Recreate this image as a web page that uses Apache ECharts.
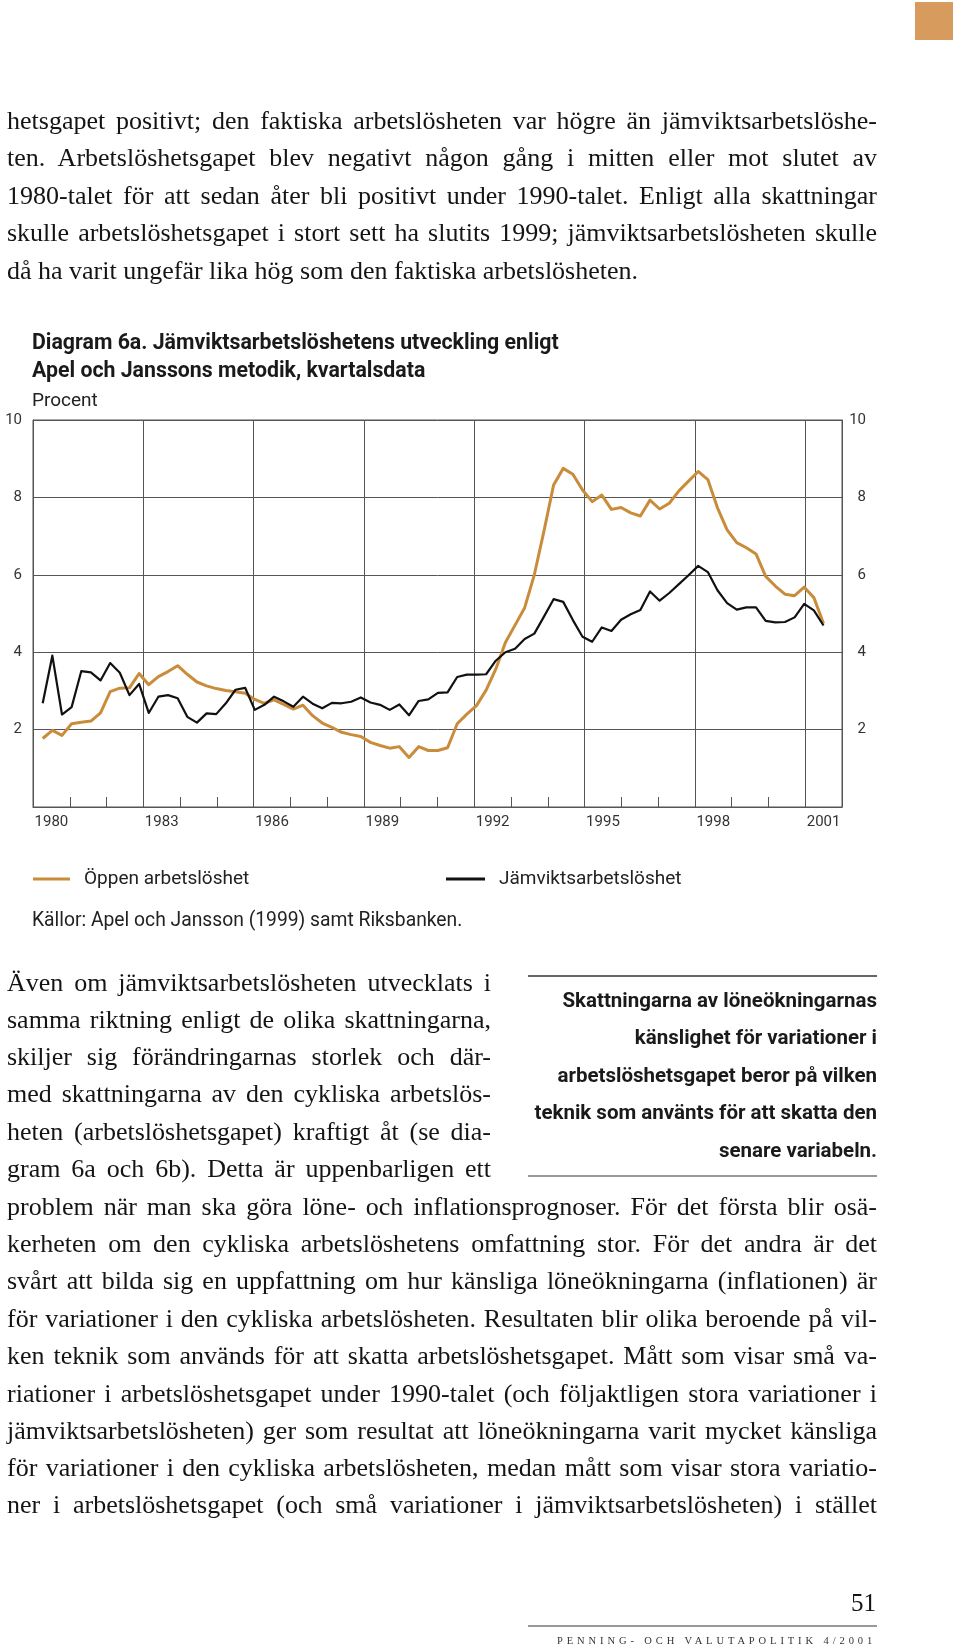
<!DOCTYPE html>
<html><head><meta charset="utf-8">
<script src="https://cdn.jsdelivr.net/npm/echarts/dist/echarts.min.js"></script>
<style>
html,body{margin:0;padding:0;background:#fff;}
#page{position:relative;width:960px;height:1647px;overflow:hidden;background:#fff;}
#chart{position:absolute;left:0;top:0;width:960px;height:1647px;}
.ln{position:absolute;font-family:'Liberation Serif','Times New Roman',serif;font-size:26px;line-height:30px;height:30px;color:#141414;white-space:nowrap;overflow:visible;}
.j{text-align:justify;text-align-last:justify;}
.side{position:absolute;right:83px;font-family:Roboto,'Noto Sans',sans-serif;font-weight:bold;font-size:20.5px;line-height:24px;color:#1a1a1a;text-align:right;white-space:nowrap;}
.rule{position:absolute;}
</style>
</head><body>
<div id="page">
<div id="chart"></div>
<div style="position:absolute;left:915px;top:2px;width:38px;height:38px;background:#D89B5E;"></div>

<div class="ln j" style="left:7px;top:106px;width:870px;">hetsgapet positivt; den faktiska arbetslösheten var högre än jämviktsarbetslöshe-</div>
<div class="ln j" style="left:7px;top:143px;width:870px;">ten. Arbetslöshetsgapet blev negativt någon gång i mitten eller mot slutet av</div>
<div class="ln j" style="left:7px;top:181px;width:870px;">1980-talet för att sedan åter bli positivt under 1990-talet. Enligt alla skattningar</div>
<div class="ln j" style="left:7px;top:218px;width:870px;">skulle arbetslöshetsgapet i stort sett ha slutits 1999; jämviktsarbetslösheten skulle</div>
<div class="ln" style="left:7px;top:256px;width:870px;">då ha varit ungefär lika hög som den faktiska arbetslösheten.</div>

<div class="ln j" style="left:7px;top:968px;width:484px;">Även om jämviktsarbetslösheten utvecklats i</div>
<div class="ln j" style="left:7px;top:1005px;width:484px;">samma riktning enligt de olika skattningarna,</div>
<div class="ln j" style="left:7px;top:1042px;width:484px;">skiljer sig förändringarnas storlek och där-</div>
<div class="ln j" style="left:7px;top:1079px;width:484px;">med skattningarna av den cykliska arbetslös-</div>
<div class="ln j" style="left:7px;top:1117px;width:484px;">heten (arbetslöshetsgapet) kraftigt åt (se dia-</div>
<div class="ln j" style="left:7px;top:1154px;width:484px;">gram 6a och 6b). Detta är uppenbarligen ett</div>
<div class="ln j" style="left:7px;top:1192px;width:870px;">problem när man ska göra löne- och inflationsprognoser. För det första blir osä-</div>
<div class="ln j" style="left:7px;top:1229px;width:870px;">kerheten om den cykliska arbetslöshetens omfattning stor. För det andra är det</div>
<div class="ln j" style="left:7px;top:1266px;width:870px;">svårt att bilda sig en uppfattning om hur känsliga löneökningarna (inflationen) är</div>
<div class="ln j" style="left:7px;top:1304px;width:870px;">för variationer i den cykliska arbetslösheten. Resultaten blir olika beroende på vil-</div>
<div class="ln j" style="left:7px;top:1341px;width:870px;">ken teknik som används för att skatta arbetslöshetsgapet. Mått som visar små va-</div>
<div class="ln j" style="left:7px;top:1379px;width:870px;">riationer i arbetslöshetsgapet under 1990-talet (och följaktligen stora variationer i</div>
<div class="ln j" style="left:7px;top:1416px;width:870px;">jämviktsarbetslösheten) ger som resultat att löneökningarna varit mycket känsliga</div>
<div class="ln j" style="left:7px;top:1453px;width:870px;">för variationer i den cykliska arbetslösheten, medan mått som visar stora variatio-</div>
<div class="ln j" style="left:7px;top:1490px;width:870px;">ner i arbetslöshetsgapet (och små variationer i jämviktsarbetslösheten) i stället</div>

<div class="rule" style="left:528px;top:975px;width:349px;height:1.5px;background:#666;"></div>
<div class="side" style="top:988px;">Skattningarna av löneökningarnas</div>
<div class="side" style="top:1025px;">känslighet för variationer i</div>
<div class="side" style="top:1063px;">arbetslöshetsgapet beror på vilken</div>
<div class="side" style="top:1100px;">teknik som använts för att skatta den</div>
<div class="side" style="top:1138px;">senare variabeln.</div>
<div class="rule" style="left:528px;top:1175px;width:349px;height:2px;background:#999;"></div>

<div class="ln" style="left:776px;top:1588px;width:100px;text-align:right;font-size:25px;">51</div>
<div class="rule" style="left:528px;top:1625px;width:349px;height:2px;background:#999;"></div>
<div style="position:absolute;left:557px;top:1635px;font-family:'Liberation Serif',serif;font-size:10.5px;letter-spacing:3.9px;line-height:12px;color:#333;white-space:nowrap;">PENNING- OCH VALUTAPOLITIK 4/2001</div>
</div>
<script>
// Year tick labels (bottom axis), one category per calendar year
const yearLabels = ['1980','1981','1982','1983','1984','1985','1986','1987','1988','1989','1990',
  '1991','1992','1993','1994','1995','1996','1997','1998','1999','2000','2001'];

// Öppen arbetslöshet (open unemployment), quarterly, percent
const oppen = [1.77,1.98,1.85,2.15,2.19,2.22,2.43,2.98,3.07,3.08,
  3.45,3.16,3.37,3.50,3.65,3.43,3.23,3.13,3.06,3.01,
  2.98,2.94,2.78,2.68,2.77,2.65,2.53,2.63,2.36,2.17,
  2.06,1.93,1.87,1.82,1.67,1.59,1.52,1.56,1.28,1.56,
  1.46,1.46,1.53,2.15,2.40,2.62,3.02,3.56,4.25,4.70,
  5.15,6.00,7.13,8.32,8.75,8.60,8.19,7.89,8.06,7.69,
  7.74,7.60,7.52,7.93,7.70,7.85,8.17,8.42,8.67,8.46,
  7.73,7.16,6.83,6.70,6.54,5.96,5.71,5.50,5.46,5.68,
  5.41,4.74];

// Jämviktsarbetslöshet (equilibrium unemployment), quarterly, percent
const jamvikt = [2.68,3.91,2.39,2.58,3.51,3.48,3.27,3.72,3.47,2.89,
  3.18,2.43,2.85,2.89,2.81,2.33,2.18,2.42,2.40,2.68,
  3.03,3.08,2.51,2.64,2.85,2.73,2.59,2.85,2.67,2.55,
  2.69,2.68,2.72,2.83,2.70,2.64,2.51,2.65,2.37,2.74,
  2.78,2.95,2.96,3.36,3.42,3.42,3.43,3.78,4.00,4.09,
  4.34,4.48,4.92,5.37,5.30,4.83,4.40,4.27,4.64,4.55,
  4.84,4.98,5.09,5.57,5.33,5.53,5.76,5.99,6.23,6.07,
  5.60,5.27,5.10,5.16,5.16,4.81,4.77,4.78,4.90,5.25,
  5.08,4.69];

// y-axis tick values
const yTicks = [0,2,4,6,8,10];

const quarterLabels = oppen.map((_, i) => 'Kv ' + (i + 1));

const FONT = 'Roboto, "Noto Sans", sans-serif';
const ORANGE = '#C98C3A';
const BLACK = '#111111';
const AX = '#555555';

const chart = echarts.init(document.getElementById('chart'), null, {renderer: 'canvas'});
chart.setOption({
  animation: false,
  backgroundColor: 'transparent',
  textStyle: {fontFamily: FONT},
  title: [
    {text: 'Diagram 6a. Jämviktsarbetslöshetens utveckling enligt\nApel och Janssons metodik, kvartalsdata',
     left: 32, top: 330, padding: 0,
     textStyle: {fontFamily: FONT, fontSize: 21.3, fontWeight: 'bold', lineHeight: 28, color: '#1a1a1a'}},
    {text: 'Procent', left: 32, top: 390, padding: 0,
     textStyle: {fontFamily: FONT, fontSize: 19, fontWeight: 'normal', lineHeight: 22, color: '#222'}},
    {text: 'Källor: Apel och Jansson (1999) samt Riksbanken.', left: 32, top: 910, padding: 0,
     textStyle: {fontFamily: FONT, fontSize: 19.3, fontWeight: 'normal', lineHeight: 22, color: '#222'}}
  ],
  legend: [
    {data: ['Öppen arbetslöshet'], left: 33, top: 868, padding: 0, itemWidth: 37, itemHeight: 3, icon: 'rect',
     textStyle: {fontFamily: FONT, fontSize: 19, lineHeight: 22, color: '#222', padding: [0, 0, 0, 9]}},
    {data: ['Jämviktsarbetslöshet'], left: 446, top: 868, padding: 0, itemWidth: 39, itemHeight: 3, icon: 'rect',
     textStyle: {fontFamily: FONT, fontSize: 19, lineHeight: 22, color: '#222', padding: [0, 0, 0, 9]}}
  ],
  grid: [
    {left: 33, right: 118, top: 420, bottom: 840, show: true, borderColor: AX, borderWidth: 1, containLabel: false},
    {left: 42.7, right: 136.5, top: 420, bottom: 840, containLabel: false}
  ],
  xAxis: [
    {type: 'category', gridIndex: 0, data: yearLabels, boundaryGap: true,
     axisLine: {show: true, lineStyle: {color: AX, width: 1}},
     axisTick: {show: true, inside: true, length: 10, interval: 0, lineStyle: {color: AX, width: 1}},
     axisLabel: {interval: (i) => i % 3 === 0, fontFamily: FONT, fontSize: 15, color: '#333', margin: 8},
     splitLine: {show: true, interval: (i) => i % 3 === 0, lineStyle: {color: AX, width: 1}}},
    {type: 'category', gridIndex: 1, data: quarterLabels, boundaryGap: false, show: false}
  ],
  yAxis: [
    {type: 'value', gridIndex: 0, min: yTicks[0], max: yTicks[yTicks.length - 1], interval: 2, position: 'left',
     axisLine: {show: true, lineStyle: {color: AX, width: 1}}, axisTick: {show: false},
     axisLabel: {formatter: (v) => v === 0 ? '' : String(v), fontFamily: FONT, fontSize: 15, color: '#333', margin: 11},
     splitLine: {show: true, lineStyle: {color: AX, width: 1}}},
    {type: 'value', gridIndex: 0, min: yTicks[0], max: yTicks[yTicks.length - 1], interval: 2, position: 'right',
     axisLine: {show: true, lineStyle: {color: AX, width: 1}}, axisTick: {show: false},
     axisLabel: {formatter: (v) => v === 0 ? '' : String(v), fontFamily: FONT, fontSize: 15, color: '#333', margin: 24, align: 'right'},
     splitLine: {show: false}},
    {type: 'value', gridIndex: 1, min: yTicks[0], max: yTicks[yTicks.length - 1], show: false}
  ],
  series: [
    {name: 'Öppen arbetslöshet', type: 'line', xAxisIndex: 1, yAxisIndex: 2, data: oppen,
     symbol: 'none', lineStyle: {color: ORANGE, width: 3, join: 'round'}, itemStyle: {color: ORANGE}, z: 3},
    {name: 'Jämviktsarbetslöshet', type: 'line', xAxisIndex: 1, yAxisIndex: 2, data: jamvikt,
     symbol: 'none', lineStyle: {color: BLACK, width: 2.2, join: 'round'}, itemStyle: {color: BLACK}, z: 4}
  ]
});
</script>
</body></html>
